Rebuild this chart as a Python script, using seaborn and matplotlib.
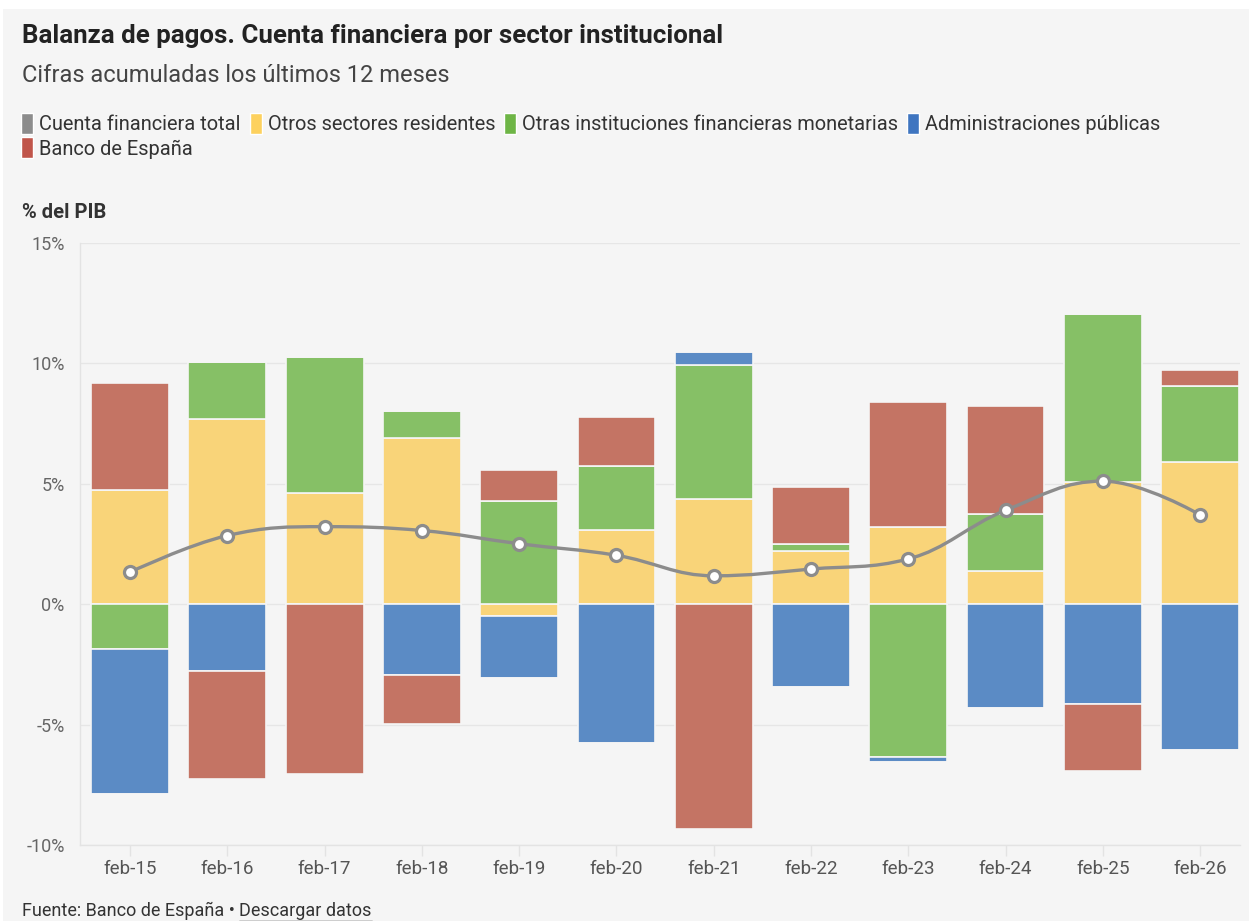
import numpy as np
import matplotlib
matplotlib.use("Agg")
import matplotlib.pyplot as plt
import seaborn as sns
import pandas as pd
from matplotlib.patches import Patch, Rectangle
from matplotlib.path import Path
from matplotlib.patches import PathPatch
from matplotlib.lines import Line2D

# --- data (% del PIB) ---
categories = ['feb-15', 'feb-16', 'feb-17', 'feb-18', 'feb-19', 'feb-20',
              'feb-21', 'feb-22', 'feb-23', 'feb-24', 'feb-25', 'feb-26']
otros_sectores = [4.74, 7.69, 4.63, 6.91, -0.50, 3.07, 4.35, 2.20, 3.19, 1.37, 5.06, 5.91]
otras_ifm = [-1.87, 2.38, 5.64, 1.11, 4.28, 2.66, 5.58, 0.32, -6.34, 2.36, 6.98, 3.16]
admin_publicas = [-6.03, -2.77, 0.0, -2.95, -2.55, -5.75, 0.55, -3.43, -0.21, -4.33, -4.13, -6.04]
banco_espana = [4.43, -4.47, -7.06, -2.01, 1.29, 2.03, -9.32, 2.35, 5.22, 4.50, -2.81, 0.65]
cuenta_total = [1.33, 2.85, 3.22, 3.06, 2.51, 2.03, 1.18, 1.46, 1.88, 3.90, 5.11, 3.71]
y_ticks = [-10, -5, 0, 5, 10, 15]

series = [
    ('Otros sectores residentes', otros_sectores, '#F9D479', '#FDD15E'),
    ('Otras instituciones financieras monetarias', otras_ifm, '#86C066', '#6EB546'),
    ('Administraciones públicas', admin_publicas, '#5B8BC5', '#3F75C0'),
    ('Banco de España', banco_espana, '#C47464', '#C0554A'),
]
line_color = '#8C8C8C'
bg = '#F5F5F5'

sns.set_theme(style="white")
plt.rcParams['font.family'] = ['Roboto', 'DejaVu Sans']

fig = plt.figure(figsize=(12.49, 9.21), dpi=100, facecolor='white')
fig.patches.append(Rectangle((3 / 1249, 0), 1, 1 - 9 / 921, transform=fig.transFigure,
                             facecolor=bg, edgecolor='none', zorder=-10))
ax = fig.add_axes([80 / 1249, 1 - 845 / 921, (1240 - 80) / 1249, (845 - 243) / 921])
ax.set_facecolor(bg)

x = np.arange(len(categories))
pos_base = np.zeros(len(x))
neg_base = np.zeros(len(x))
for name, vals, color, _ in series:
    v = np.array(vals, dtype=float)
    pos = np.where(v > 0, v, 0)
    neg = np.where(v < 0, v, 0)
    ax.bar(x, pos, bottom=pos_base, width=0.8, color=color, edgecolor='#F5F5F5',
           linewidth=1.2, zorder=2)
    ax.bar(x, neg, bottom=neg_base, width=0.8, color=color, edgecolor='#F5F5F5',
           linewidth=1.2, zorder=2)
    pos_base += pos
    neg_base += neg

# smooth "spline" line through the totals (Bezier control points)
ys = np.array(cuenta_total, dtype=float)
xs = x.astype(float)
sm = 1.5
n = len(xs)
left_c = [(xs[i], ys[i]) for i in range(n)]
right_c = [(xs[i], ys[i]) for i in range(n)]
for i in range(1, n - 1):
    lx = (sm * xs[i] + xs[i - 1]) / (sm + 1)
    ly = (sm * ys[i] + ys[i - 1]) / (sm + 1)
    rx = (sm * xs[i] + xs[i + 1]) / (sm + 1)
    ry = (sm * ys[i] + ys[i + 1]) / (sm + 1)
    corr = (ry - ly) * (rx - xs[i]) / (rx - lx) + ys[i] - ry
    ly += corr
    ry += corr
    last, nxt, py = ys[i - 1], ys[i + 1], ys[i]
    if ly > last and ly > py:
        ly = max(last, py); ry = 2 * py - ly
    elif ly < last and ly < py:
        ly = min(last, py); ry = 2 * py - ly
    if ry > nxt and ry > py:
        ry = max(nxt, py); ly = 2 * py - ry
    elif ry < nxt and ry < py:
        ry = min(nxt, py); ly = 2 * py - ry
    left_c[i] = (lx, ly)
    right_c[i] = (rx, ry)
verts = [(xs[0], ys[0])]
codes = [Path.MOVETO]
for i in range(1, n):
    verts += [right_c[i - 1], left_c[i], (xs[i], ys[i])]
    codes += [Path.CURVE4] * 3
ax.add_patch(PathPatch(Path(verts, codes), facecolor='none', edgecolor=line_color,
                       linewidth=2.4, zorder=3, capstyle='round'))
df_tot = pd.DataFrame({'x': xs, 'total': ys})
sns.scatterplot(data=df_tot, x='x', y='total', ax=ax, s=75, color='white',
                edgecolor=line_color, linewidth=2.3, zorder=4, legend=False)

ax.set_ylim(-10, 15)
ax.set_xlim(-0.515, 11.41)
ax.set_yticks(y_ticks)
ax.set_yticklabels([f'{t}%' for t in y_ticks])
ax.set_xticks(x)
ax.set_xticklabels(categories)
ax.set_xlabel('')
ax.set_ylabel('')
ax.grid(axis='y', color='#E6E6E6', linewidth=1, zorder=0)
ax.set_axisbelow(True)
for s in ['top', 'right']:
    ax.spines[s].set_visible(False)
for s in ['left', 'bottom']:
    ax.spines[s].set_color('#E3E3E3')
    ax.spines[s].set_linewidth(1)
ax.tick_params(axis='y', length=0, pad=11, labelsize=13, labelcolor='#666666')
ax.tick_params(axis='x', length=8, width=1, color='#E3E3E3', pad=3,
               labelsize=13.5, labelcolor='#555555', direction='out', bottom=True)

# header texts
fig.text(22 / 1249, 1 - 36 / 921, 'Balanza de pagos. Cuenta financiera por sector institucional',
         fontsize=18.6, fontweight='bold', color='#222222', va='center', ha='left')
fig.text(22 / 1249, 1 - 76 / 921, 'Cifras acumuladas los últimos 12 meses',
         fontsize=17, color='#444444', va='center', ha='left')
fig.text(22 / 1249, 1 - 213 / 921, '% del PIB', fontsize=14.5, fontweight='bold',
         color='#333333', va='center', ha='left')

handles = [Patch(facecolor=line_color, label='Cuenta financiera total')]
handles += [Patch(facecolor=lc, label=nm) for nm, _, _, lc in series]
# reorder so that "Banco de España" falls under the first column in row two
order = [0, 4, 1, 2, 3]
fig.legend(handles=[handles[i] for i in order], loc='upper left',
           bbox_to_anchor=(21 / 1249, 1 - 113 / 921), ncol=4, frameon=False,
           fontsize=14.4, handlelength=0.6, handleheight=1.25, handletextpad=0.3,
           columnspacing=0.45, labelspacing=0.15, borderpad=0, borderaxespad=0,
           labelcolor='#333333')

# source line with underlined link text
t1 = fig.text(22 / 1249, 1 - 911 / 921, 'Fuente: Banco de España • ', fontsize=13,
              color='#333333', va='center', ha='left')
fig.canvas.draw()
r = fig.canvas.get_renderer()
bb = t1.get_window_extent(renderer=r)
t2 = fig.text(bb.x1 / 1249, 1 - 911 / 921, 'Descargar datos', fontsize=13,
              color='#333333', va='center', ha='left')
bb2 = t2.get_window_extent(renderer=r)
fig.add_artist(Line2D([bb2.x0 / 1249, bb2.x1 / 1249], [(bb2.y0 - 1) / 921] * 2,
                      transform=fig.transFigure, color='#333333', linewidth=1))

fig.savefig('out.png', dpi=100, facecolor=fig.get_facecolor())
